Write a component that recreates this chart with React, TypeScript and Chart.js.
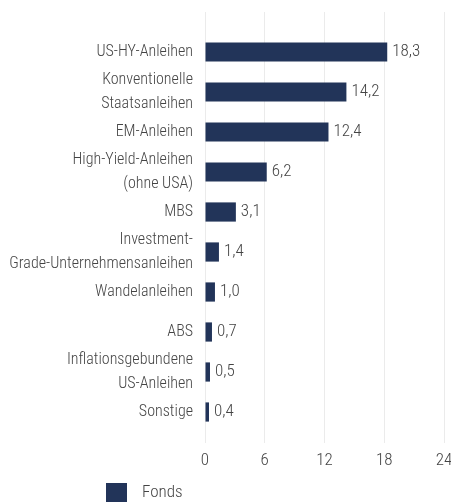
import React, { useEffect, useRef } from "react";
import { Chart, registerables } from "chart.js";

Chart.register(...registerables);

const categories: (string | string[])[] = [
  "US-HY-Anleihen",
  ["Konventionelle", "Staatsanleihen"],
  "EM-Anleihen",
  ["High-Yield-Anleihen", "(ohne USA)"],
  "MBS",
  ["Investment-", "Grade-Unternehmensanleihen"],
  "Wandelanleihen",
  "ABS",
  ["Inflationsgebundene", "US-Anleihen"],
  "Sonstige",
];
const fondsValues = [18.3, 14.2, 12.4, 6.2, 3.1, 1.4, 1.0, 0.7, 0.5, 0.4];
const xTicks = [0, 6, 12, 18, 24];
const seriesName = "Fonds";

const FONT = "'Roboto Condensed', 'Liberation Sans Narrow', 'DejaVu Sans Condensed', sans-serif";
const TEXT = "#444444";
const BAR = "#223459";
const GRID = "#ebebeb";

const fmt = (v: number) => v.toFixed(1).replace(".", ",");

const valueLabels = {
  id: "valueLabels",
  afterDatasetsDraw(chart: any) {
    const ctx = chart.ctx;
    const meta = chart.getDatasetMeta(0);
    ctx.save();
    ctx.font = `300 17px ${FONT}`;
    ctx.fillStyle = TEXT;
    ctx.textAlign = "left";
    ctx.textBaseline = "middle";
    meta.data.forEach((bar: any, i: number) => {
      ctx.fillText(fmt(fondsValues[i]), bar.x + 5, bar.y);
    });
    ctx.restore();
  },
};

const customLegend = {
  id: "customLegend",
  afterDraw(chart: any) {
    const ctx = chart.ctx;
    const y = chart.height - 10;
    ctx.save();
    ctx.fillStyle = BAR;
    ctx.fillRect(106, y - 9, 21, 20);
    ctx.font = `300 17px ${FONT}`;
    ctx.fillStyle = TEXT;
    ctx.textAlign = "left";
    ctx.textBaseline = "middle";
    ctx.fillText(seriesName, 142, y + 1);
    ctx.restore();
  },
};

export default function App() {
  const ref = useRef<HTMLCanvasElement | null>(null);
  useEffect(() => {
    if (!ref.current) return;
    const chart = new Chart(ref.current, {
      type: "bar",
      data: {
        labels: categories as any,
        datasets: [
          {
            label: seriesName,
            data: fondsValues,
            backgroundColor: BAR,
            borderWidth: 0,
            barPercentage: 0.48,
            categoryPercentage: 1,
            xAxisID: "x",
          },
        ],
      },
      options: {
        indexAxis: "y",
        animation: false,
        responsive: true,
        maintainAspectRatio: false,
        layout: { padding: { top: 12, right: 7, bottom: 20, left: 0 } },
        plugins: {
          legend: { display: false },
          tooltip: { enabled: false },
        },
        scales: {
          x: {
            position: "bottom",
            min: 0,
            max: 24,
            afterBuildTicks: (scale: any) => {
              scale.ticks = xTicks.map((v) => ({ value: v }));
            },
            afterFit: (scale: any) => {
              scale.height = 50;
              scale.paddingRight = 0;
              scale.paddingLeft = 0;
            },
            grid: {
              color: GRID,
              lineWidth: 1,
              tickLength: 11,
              drawTicks: true,
            },
            border: { display: false },
            ticks: {
              color: TEXT,
              font: { family: FONT, size: 17, weight: 300 as any },
              padding: 8,
              maxRotation: 0,
            },
          },
          xTop: {
            axis: "x",
            position: "top",
            min: 0,
            max: 24,
            afterBuildTicks: (scale: any) => {
              scale.ticks = xTicks.map((v) => ({ value: v }));
            },
            afterFit: (scale: any) => {
              scale.height = 20;
              scale.paddingRight = 0;
              scale.paddingLeft = 0;
            },
            grid: {
              color: GRID,
              lineWidth: 1,
              tickLength: 20,
              drawTicks: true,
            },
            border: { display: false },
            ticks: { display: false },
          },
          y: {
            afterFit: (scale: any) => {
              scale.width = 205;
              scale.paddingTop = 0;
              scale.paddingBottom = 0;
            },
            grid: { display: false, drawTicks: false },
            border: { display: false },
            ticks: {
              color: TEXT,
              font: { family: FONT, size: 16, lineHeight: 1.5, weight: 300 as any },
              padding: 12,
              autoSkip: false,
            },
          },
        },
      } as any,
      plugins: [valueLabels, customLegend],
    });
    return () => chart.destroy();
  }, []);
  return (
    <div style={{ position: "absolute", left: 0, top: 0, width: 451, height: 502 }}>
      <canvas ref={ref} />
    </div>
  );
}
